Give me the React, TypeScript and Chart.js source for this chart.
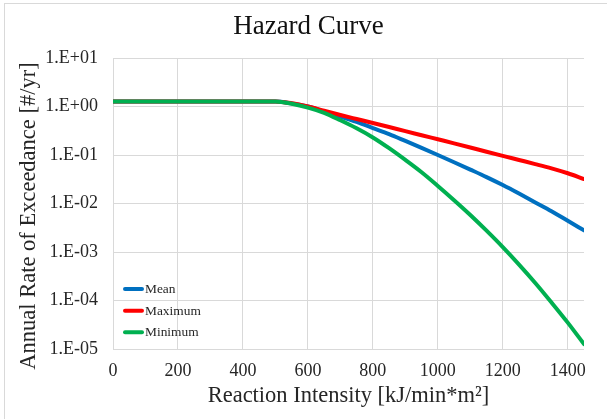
import React, { useEffect, useRef } from "react";
import { Chart, registerables } from "chart.js";

Chart.register(...registerables);

const intensity = [0, 50, 100, 150, 200, 250, 300, 350, 400, 450, 500, 550, 600, 650, 700, 750, 800, 850, 900, 950, 1000, 1050, 1100, 1150, 1200, 1250, 1300, 1350, 1400, 1450];
const meanRate = [1.27, 1.27, 1.27, 1.27, 1.27, 1.27, 1.27, 1.27, 1.27, 1.27, 1.27, 1.16, 1.0, 0.79, 0.62, 0.48, 0.36, 0.27, 0.195, 0.14, 0.1, 0.071, 0.05, 0.035, 0.024, 0.016, 0.0105, 0.0069, 0.0044, 0.0028];
const maxRate = [1.27, 1.27, 1.27, 1.27, 1.27, 1.27, 1.27, 1.27, 1.27, 1.27, 1.27, 1.17, 1.0, 0.815, 0.668, 0.552, 0.457, 0.377, 0.31, 0.256, 0.211, 0.174, 0.143, 0.117, 0.096, 0.079, 0.065, 0.053, 0.042, 0.032];
const minRate = [1.27, 1.27, 1.27, 1.27, 1.27, 1.27, 1.27, 1.27, 1.27, 1.27, 1.27, 1.14, 0.95, 0.74, 0.52, 0.355, 0.23, 0.138, 0.079, 0.044, 0.023, 0.0117, 0.0058, 0.00275, 0.00126, 0.00055, 0.00023, 0.000091, 0.000035, 0.0000126];
const yTicks = [1e-5, 1e-4, 1e-3, 1e-2, 1e-1, 1e0, 1e1];
const seriesNames = ["Mean", "Maximum", "Minimum"];
const seriesColors = ["#0070c0", "#ff0000", "#00b050"];
const chartTitle = "Hazard Curve";
const xTitle = "Reaction Intensity [kJ/min*m²]";
const yTitle = "Annual Rate of Exceedance [#/yr]";

const FONT = "'Liberation Serif', 'Times New Roman', serif";
const TEXT = "#262626";

function fmtExp(v: number) {
  const e = Math.round(Math.log10(v));
  const s = e < 0 ? "-" : "+";
  const a = Math.abs(e);
  return "1.E" + s + (a < 10 ? "0" + a : String(a));
}

const textPlugin = {
  id: "textAndLegend",
  afterDraw(chart: any) {
    const ctx = chart.ctx;
    const area = chart.chartArea;
    ctx.save();
    // chart title
    ctx.fillStyle = "#111111";
    ctx.font = "27px " + FONT;
    ctx.textAlign = "center";
    ctx.textBaseline = "middle";
    ctx.fillText(chartTitle, 308.5, 26.5);
    // x axis title
    ctx.fillStyle = TEXT;
    ctx.font = "22.5px " + FONT;
    ctx.fillText(xTitle, (area.left + area.right) / 2, 396.5);
    // y axis title
    ctx.save();
    ctx.translate(29.5, 216);
    ctx.rotate(-Math.PI / 2);
    ctx.fillText(yTitle, 0, 0);
    ctx.restore();
    // legend
    const ys = [289, 310.7, 332.3];
    ctx.font = "13.4px " + FONT;
    ctx.textAlign = "left";
    seriesNames.forEach((name, i) => {
      ctx.strokeStyle = seriesColors[i];
      ctx.lineWidth = 4;
      ctx.lineCap = "round";
      ctx.beginPath();
      ctx.moveTo(125, ys[i]);
      ctx.lineTo(142, ys[i]);
      ctx.stroke();
      ctx.fillStyle = TEXT;
      ctx.fillText(name, 145, ys[i] + 0.5);
    });
    ctx.restore();
  },
};

export default function App() {
  const ref = useRef<HTMLCanvasElement | null>(null);
  useEffect(() => {
    if (!ref.current) return;
    const series = [meanRate, maxRate, minRate];
    const orders = [2, 1, 0];
    const chart = new Chart(ref.current, {
      type: "line",
      data: {
        datasets: series.map((arr, i) => ({
          label: seriesNames[i],
          data: intensity.map((x, j) => ({ x, y: arr[j] })),
          borderColor: seriesColors[i],
          backgroundColor: seriesColors[i],
          borderWidth: 4,
          pointRadius: 0,
          cubicInterpolationMode: "monotone" as const,
          borderCapStyle: "round" as const,
          borderJoinStyle: "round" as const,
          order: orders[i],
          fill: false,
        })),
      },
      options: {
        animation: false,
        responsive: false,
        layout: { padding: { left: 0, right: 23, top: 58, bottom: 0 } },
        plugins: {
          legend: { display: false },
          tooltip: { enabled: false },
          title: { display: false },
        },
        scales: {
          x: {
            type: "linear",
            min: 0,
            max: 1450,
            border: { display: false },
            grid: { color: "#d9d9d9", lineWidth: 1, drawTicks: false },
            ticks: {
              stepSize: 200,
              includeBounds: false,
              padding: 11,
              color: TEXT,
              font: { family: FONT, size: 18 },
              maxRotation: 0,
              callback: (v: any) => String(v),
            },
            afterFit(scale: any) {
              scale.height = 70;
            },
          },
          y: {
            type: "logarithmic",
            min: 1e-5,
            max: 10,
            border: { display: false },
            grid: { color: "#d9d9d9", lineWidth: 1, drawTicks: false },
            ticks: {
              padding: 15,
              color: TEXT,
              font: { family: FONT, size: 18 },
              callback: (v: any) => fmtExp(Number(v)),
            },
            afterBuildTicks(scale: any) {
              scale.ticks = yTicks.map((v) => ({ value: v, major: true }));
            },
            afterFit(scale: any) {
              scale.width = 113;
            },
          },
        },
      } as any,
      plugins: [textPlugin],
    });
    return () => chart.destroy();
  }, []);
  return (
    <div style={{ position: "fixed", left: 0, top: 0, width: 607, height: 419, background: "#ffffff", overflow: "hidden" }}>
      <canvas ref={ref} width={607} height={419} style={{ display: "block" }} />
      <div style={{ position: "absolute", left: 4, top: 3, width: 700, height: 500, borderLeft: "1px solid #d9d9d9", borderTop: "1px solid #d9d9d9", pointerEvents: "none" }} />
    </div>
  );
}
